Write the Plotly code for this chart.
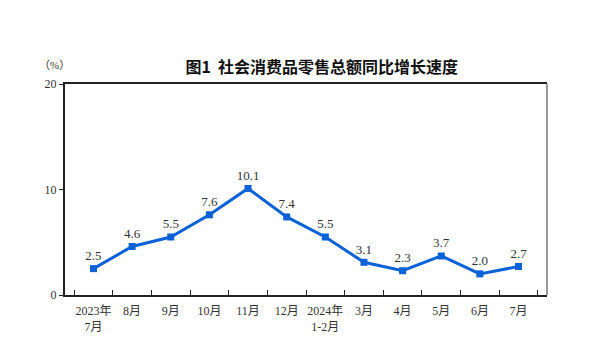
import plotly.graph_objects as go

categories = ["2023年<br>7月", "8月", "9月", "10月", "11月", "12月", "2024年<br>1-2月",
              "3月", "4月", "5月", "6月", "7月"]
values = [2.5, 4.6, 5.5, 7.6, 10.1, 7.4, 5.5, 3.1, 2.3, 3.7, 2.0, 2.7]
y_ticks = [0, 10, 20]

serif = "Liberation Serif, Noto Sans CJK SC, serif"
label_font = dict(family=serif, size=13, color="#333333")

fig = go.Figure()
fig.add_trace(go.Scatter(
    x=categories, y=values, mode="lines+markers+text",
    line=dict(color="#0a62d6", width=3),
    marker=dict(symbol="square", size=7, color="#0a62d6"),
    text=[f"{v:.1f}" for v in values], textposition="top center",
    textfont=label_font, cliponaxis=False,
))

fig.update_layout(
    width=592, height=347,
    margin=dict(l=57, r=53, t=76, b=60, autoexpand=False),
    paper_bgcolor="white", plot_bgcolor="white",
    showlegend=False,
    title=dict(text="<b>图1  社会消费品零售总额同比增长速度</b>",
               font=dict(family="Noto Sans CJK SC, sans-serif", size=16, color="#111111"),
               x=0.53, xanchor="center", y=0.83, yanchor="middle"),
    xaxis=dict(type="category", showline=True, linecolor="#222222", linewidth=2,
               mirror=True, ticks="inside", tickson="boundaries", ticklen=5,
               tickcolor="#222222", showgrid=False, tickangle=0, ticklabelstandoff=4,
               tickfont=dict(family=serif, size=12, color="#333333")),
    yaxis=dict(range=[0, 20], tickvals=y_ticks, showline=True, linecolor="#222222",
               linewidth=2, ticks="outside", ticklen=4, tickcolor="#222222",
               showgrid=False, zeroline=False,
               tickfont=dict(family=serif, size=12, color="#333333")),
)
fig.add_shape(type="line", xref="paper", yref="paper", x0=1, x1=1, y0=0, y1=1,
              line=dict(color="#999999", width=2))
fig.add_annotation(text="（%）", xref="paper", yref="paper", x=-0.021, y=1.09,
                   xanchor="center", yanchor="middle",
                   showarrow=False, font=dict(family=serif, size=11, color="#333333"))
fig.write_html("out.html")
